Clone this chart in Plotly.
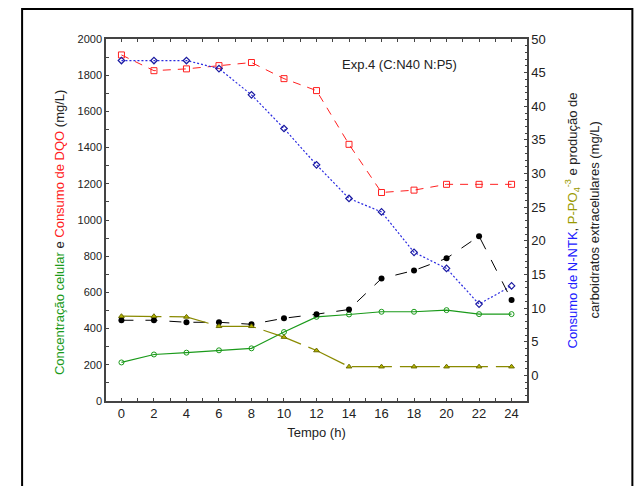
import plotly.graph_objects as go

tempo = [0, 2, 4, 6, 8, 10, 12, 14, 16, 18, 20, 22, 24]
dqo = [1912, 1825, 1835, 1853, 1870, 1781, 1715, 1418, 1152, 1165, 1197, 1197, 1197]
celular = [213, 257, 267, 280, 291, 381, 465, 478, 493, 493, 502, 480, 480]
ntk = [46.8, 46.8, 46.8, 45.6, 41.7, 36.7, 31.3, 26.3, 24.3, 18.3, 15.9, 10.6, 13.3]
carboidratos = [8.2, 8.2, 7.9, 7.9, 7.6, 8.5, 9.1, 9.8, 14.4, 15.6, 17.4, 20.7, 11.2]
fosfato = [8.8, 8.8, 8.7, 7.3, 7.3, 5.7, 3.7, 1.3, 1.3, 1.3, 1.3, 1.3, 1.3]

FONT = "Liberation Sans, Arial, sans-serif"
fig = go.Figure()

fig.add_trace(go.Scatter(x=tempo, y=dqo, mode="lines+markers",
    line=dict(color="#ff2020", width=1, dash="8px,7px"),
    marker=dict(symbol="square-open", size=6, color="#ff2020", line=dict(width=1))))
fig.add_trace(go.Scatter(x=tempo, y=ntk, yaxis="y2", mode="lines+markers",
    line=dict(color="#2a2ae0", width=1.2, dash="2px,2px"),
    marker=dict(symbol="diamond-open", size=5, color="#1a1aa0", line=dict(width=1.2))))
fig.add_trace(go.Scatter(x=tempo, y=carboidratos, yaxis="y2", mode="lines+markers",
    line=dict(color="#000000", width=1, dash="12px,12px"),
    marker=dict(symbol="circle", size=6, color="#000000")))
fig.add_trace(go.Scatter(x=tempo, y=fosfato, yaxis="y2", mode="lines+markers",
    line=dict(color="#8a8a00", width=1.2, dash="40px,8px"),
    marker=dict(symbol="triangle-up", size=5, color="#b5b500", line=dict(color="#6b6b00", width=1))))
fig.add_trace(go.Scatter(x=tempo, y=celular, mode="lines+markers",
    line=dict(color="#1a9a1a", width=1.2),
    marker=dict(symbol="circle-open", size=5, color="#1a9a1a", line=dict(width=1))))

fig.update_layout(
    width=636, height=486,
    margin=dict(l=106, r=108.5, t=39, b=85),
    paper_bgcolor="white", plot_bgcolor="white",
    showlegend=False,
    font=dict(family=FONT, color="#222", size=12),
    xaxis=dict(range=[-0.95, 24.95], tickvals=tempo, ticks="inside", ticklen=3,
               showline=True, linecolor="#444", linewidth=1.5, mirror="ticks",
               showgrid=False, zeroline=False, tickfont=dict(size=13),
               minor=dict(dtick=1, tick0=0, ticks="inside", ticklen=3, showgrid=False),
               title=dict(text="Tempo (h)", font=dict(size=13), standoff=8)),
    yaxis=dict(range=[0, 2000], dtick=200, ticks="inside", ticklen=3,
               showline=True, linecolor="#444", linewidth=1.5,
               showgrid=False, zeroline=False, tickfont=dict(size=11),
               minor=dict(dtick=100, ticks="inside", ticklen=3, showgrid=False)),
    yaxis2=dict(range=[-3.8, 50], overlaying="y", side="right", dtick=5, tick0=0,
                ticks="inside", ticklen=3, showline=True, linecolor="#444", linewidth=1.5,
                showgrid=False, zeroline=False, tickfont=dict(size=13),
                minor=dict(dtick=1, tick0=0, ticks="inside", ticklen=2, showgrid=False)),
)

W = 527.5 - 106
H = 401 - 39
def px(x):
    return (x - 106) / W
def py(y):
    return (401 - y) / H

fig.add_shape(type="rect", xref="paper", yref="paper",
              x0=px(22), x1=px(633), y0=py(600), y1=py(9),
              line=dict(color="black", width=2), layer="below")

fig.add_annotation(xref="paper", yref="paper", x=px(400), y=py(64),
                   xanchor="center", yanchor="middle",
                   text="Exp.4 (C:N40 N:P5)", showarrow=False,
                   font=dict(size=13, color="#222"))

fig.add_annotation(xref="paper", yref="paper", x=px(59), y=py(233), textangle=-90,
    xanchor="center", yanchor="middle",
    text='<span style="color:#1a9a1a">Concentração celular</span> e '
         '<span style="color:#ff2020">Consumo de DQO</span> (mg/L)',
    showarrow=False, font=dict(size=13, color="#222"))

fig.add_annotation(xref="paper", yref="paper", x=px(573), y=py(220), textangle=-90,
    xanchor="center", yanchor="middle",
    text='<span style="color:#2020ff">Consumo de N-NTK</span>, '
         '<span style="color:#9a9a00">P-PO<sub>4</sub><sup>-3</sup></span> e produção de',
    showarrow=False, font=dict(size=13, color="#222"))
fig.add_annotation(xref="paper", yref="paper", x=px(595), y=py(220), textangle=-90,
    xanchor="center", yanchor="middle",
    text='carboidratos extracelulares (mg/L)',
    showarrow=False, font=dict(size=13, color="#222"))

fig.write_html("out.html")
